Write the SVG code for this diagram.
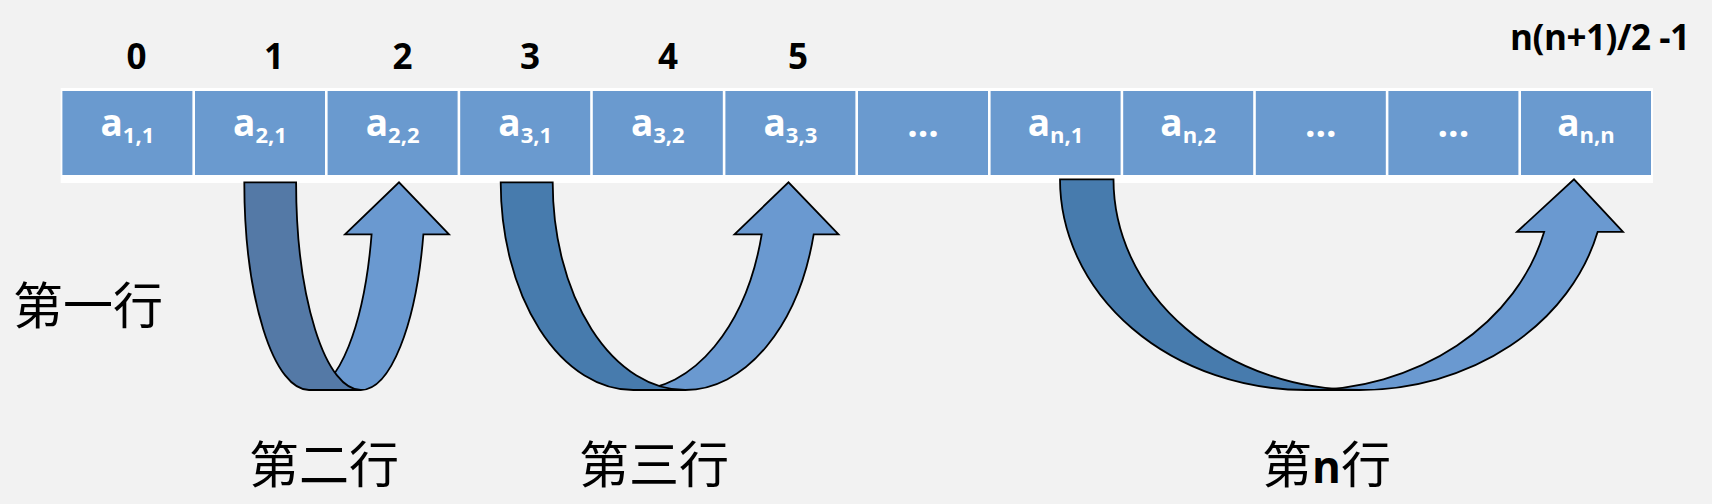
<svg xmlns="http://www.w3.org/2000/svg" width="1712" height="504" viewBox="0 0 1712 504">
<style>
.bg{fill:#F2F2F2}
.cell{fill:#6A9ACF}
.ct{font-family:"Open Sans","Liberation Sans",sans-serif;font-weight:bold;font-size:37px;fill:#FFFFFF;text-anchor:middle}
.sub{font-size:22px}
.idx{font-family:"Open Sans","Liberation Sans",sans-serif;font-weight:bold;font-size:35px;fill:#000000;text-anchor:middle}
.cjk{font-family:"Noto Sans CJK SC",sans-serif;font-size:50px;fill:#000000}
.nb{font-family:"Open Sans","Liberation Sans",sans-serif;font-weight:bold;font-size:44px}
.light{fill:#6A99D0;stroke:#000000;stroke-width:1.8;stroke-linejoin:miter}
.dark1{fill:#5479A6;stroke:#000000;stroke-width:1.8}
.dark2{fill:#477BAD;stroke:#000000;stroke-width:1.8}
</style>
<rect class="bg" x="0" y="0" width="1712" height="504"/>
<g id="array">
<rect x="60.7" y="88" width="1592.3" height="95" fill="#FFFFFF"/>
<g id="cell0"><rect class="cell" x="62.4" y="91" width="130" height="84"/><text class="ct" x="127.4" y="136">a<tspan class="sub" dy="7">1,1</tspan></text></g>
<g id="cell1"><rect class="cell" x="195" y="91" width="130" height="84"/><text class="ct" x="260" y="136">a<tspan class="sub" dy="7">2,1</tspan></text></g>
<g id="cell2"><rect class="cell" x="327.6" y="91" width="130" height="84"/><text class="ct" x="392.6" y="136">a<tspan class="sub" dy="7">2,2</tspan></text></g>
<g id="cell3"><rect class="cell" x="460.2" y="91" width="130" height="84"/><text class="ct" x="525.2" y="136">a<tspan class="sub" dy="7">3,1</tspan></text></g>
<g id="cell4"><rect class="cell" x="592.8" y="91" width="130" height="84"/><text class="ct" x="657.8" y="136">a<tspan class="sub" dy="7">3,2</tspan></text></g>
<g id="cell5"><rect class="cell" x="725.4" y="91" width="130" height="84"/><text class="ct" x="790.4" y="136">a<tspan class="sub" dy="7">3,3</tspan></text></g>
<g id="cell6"><rect class="cell" x="858" y="91" width="130" height="84"/><text class="ct" x="923" y="137">...</text></g>
<g id="cell7"><rect class="cell" x="990.6" y="91" width="130" height="84"/><text class="ct" x="1055.6" y="136">a<tspan class="sub" dy="7">n,1</tspan></text></g>
<g id="cell8"><rect class="cell" x="1123.2" y="91" width="130" height="84"/><text class="ct" x="1188.2" y="136">a<tspan class="sub" dy="7">n,2</tspan></text></g>
<g id="cell9"><rect class="cell" x="1255.8" y="91" width="130" height="84"/><text class="ct" x="1320.8" y="137">...</text></g>
<g id="cell10"><rect class="cell" x="1388.4" y="91" width="130" height="84"/><text class="ct" x="1453.4" y="137">...</text></g>
<g id="cell11"><rect class="cell" x="1521" y="91" width="130" height="84"/><text class="ct" x="1586" y="136">a<tspan class="sub" dy="7">n,n</tspan></text></g>
</g>
<g id="indices">
<text class="idx" x="136.5" y="69">0</text>
<text class="idx" x="274" y="69">1</text>
<text class="idx" x="402.4" y="69">2</text>
<text class="idx" x="530" y="69">3</text>
<text class="idx" x="668" y="69">4</text>
<text class="idx" x="798" y="69">5</text>
<text class="idx" x="1600" y="50" font-size="33" textLength="180" lengthAdjust="spacing">n(n+1)/2 -1</text>
</g>
<g id="connectors">
<g id="arrow1">
<path class="light" d="M360.8,390 A64.7,207.7 0 0 0 423.4,234.3 L449,234.3 L399,182.3 L345,234.3 L371.6,234.3 A64.7,207.7 0 0 1 309,390 Z"/>
<path class="dark1" d="M244.3,182.3 L296.1,182.3 A64.7,207.7 0 0 0 360.8,390 L309,390 A64.7,207.7 0 0 1 244.3,182.3 Z"/>
</g>
<g id="arrow2">
<path class="light" d="M685.3,390 A132.6,207.7 0 0 0 813.7,234.3 L838.5,234.3 L788.5,182.3 L734.5,234.3 L761.7,234.3 A132.6,207.7 0 0 1 633.3,390 Z"/>
<path class="dark2" d="M500.7,182.3 L552.7,182.3 A132.6,207.7 0 0 0 685.3,390 L633.3,390 A132.6,207.7 0 0 1 500.7,182.3 Z"/>
</g>
<g id="arrow3">
<path class="light" d="M1359.5,390 A246,210.7 0 0 0 1597.7,231.8 L1623,231.8 L1574,179.3 L1517,231.8 L1544.2,231.8 A246,210.7 0 0 1 1306,390 Z"/>
<path class="dark2" d="M1060,179.3 L1113.5,179.3 A246,210.7 0 0 0 1359.5,390 L1306,390 A246,210.7 0 0 1 1060,179.3 Z"/>
</g>
</g>
<g id="labels">
<text id="row1" class="cjk" x="13" y="324">第一行</text>
<text id="row2" class="cjk" x="249" y="483">第二行</text>
<text id="row3" class="cjk" x="579" y="483">第三行</text>
<text id="rown" class="cjk" x="1262" y="483">第<tspan class="nb">n</tspan>行</text>
</g>
</svg>
